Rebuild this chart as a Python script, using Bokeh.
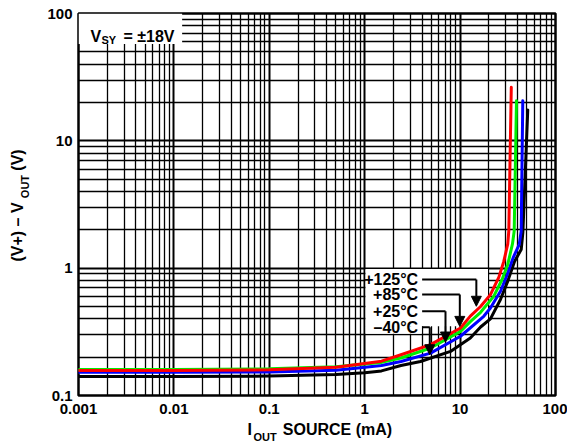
from bokeh.plotting import figure
from bokeh.models import (FixedTicker, LogAxis, BoxAnnotation, Arrow, NormalHead,
                          ColumnDataSource, Label)
from bokeh.embed import file_html
from bokeh.resources import INLINE
from bokeh.core.properties import value

# ---------------- data (I_OUT in mA, (V+) - V_OUT in V) ----------------
i_red = [0.001, 0.01, 0.1, 0.5, 1.0, 1.5, 2.4, 4.9, 10.1, 12.8, 16.4, 20.8, 25.5, 28.7, 31.6, 32.4, 34.4]
v_red = [0.157, 0.157, 0.159, 0.167, 0.178, 0.186, 0.209, 0.251, 0.339, 0.42, 0.50, 0.62, 0.85, 1.13, 1.55, 1.96, 26.3]

i_green = [0.001, 0.01, 0.1, 0.5, 1.0, 1.5, 2.4, 4.9, 10.1, 12.8, 16.4, 22.5, 27.6, 31.6, 35.4, 36.9, 39.0]
v_green = [0.160, 0.160, 0.162, 0.168, 0.177, 0.182, 0.197, 0.236, 0.319, 0.38, 0.45, 0.60, 0.818, 1.07, 1.55, 1.96, 20.6]

i_blue = [0.001, 0.01, 0.1, 0.5, 0.9, 1.5, 2.4, 4.9, 10.1, 17.7, 20.8, 26.5, 31.2, 36.0, 41.7, 43.7, 45.4]
v_blue = [0.152, 0.152, 0.153, 0.158, 0.165, 0.172, 0.185, 0.215, 0.292, 0.419, 0.487, 0.659, 0.891, 1.21, 1.54, 1.96, 20.6]

i_black = [0.001, 0.01, 0.1, 0.5, 1.0, 1.5, 2.4, 3.85, 7.93, 12.8, 16.4, 20.8, 26.5, 31.6, 37.2, 43.7, 45.5, 51.2]
v_black = [0.141, 0.141, 0.142, 0.146, 0.151, 0.156, 0.172, 0.185, 0.222, 0.283, 0.345, 0.40, 0.567, 0.791, 1.13, 1.40, 1.9, 17.5]

x_ticks = [0.001, 0.01, 0.1, 1, 10, 100]
x_tick_labels = ["0.001", "0.01", "0.1", "1", "10", "100"]
y_ticks = [0.1, 1, 10, 100]
y_tick_labels = ["0.1", "1", "10", "100"]

temp_labels = ["+125°C", "+85°C", "+25°C", "–40°C"]
leader_start_i = [4.0, 4.0, 4.0, 4.0]
leader_v = [0.814, 0.621, 0.458, 0.343]
arrow_i = [14.8, 9.93, 7.03, 4.81]
arrow_tip_v = [0.502, 0.349, 0.263, 0.209]

# axis-title pieces (text, and where along the axis each piece is centred)
x_title_main = ["I", "SOURCE (mA)"]
x_title_main_at = [0.06232, 0.5186]
x_title_sub = ["OUT"]
x_title_sub_at = [0.09036]
y_title_main = ["(V+) – V", "(V)"]
y_title_main_at = [1.923, 7.072]
y_title_sub = ["OUT"]
y_title_sub_at = [4.378]

FONT = "Liberation Sans"

def minor_of(ticks):
    out = []
    for t in ticks[:-1]:
        for m in range(2, 10):
            out.append(m * t)
    return out

p = figure(width=567, height=446, x_axis_type="log", y_axis_type="log",
           x_range=(0.001, 100), y_range=(0.1, 100),
           output_backend="svg", toolbar_location=None,
           min_border_left=78, min_border_right=12,
           min_border_top=13, min_border_bottom=51,
           background_fill_color="white", border_fill_color="white")

p.xaxis.ticker = FixedTicker(ticks=x_ticks, minor_ticks=minor_of(x_ticks))
p.yaxis.ticker = FixedTicker(ticks=y_ticks, minor_ticks=minor_of(y_ticks))
p.xaxis.major_label_overrides = dict(zip(x_ticks, x_tick_labels))
p.yaxis.major_label_overrides = dict(zip(y_ticks, y_tick_labels))

def style_axis(ax, size):
    ax.axis_line_color = None
    ax.major_tick_line_color = None
    ax.minor_tick_line_color = None
    ax.major_tick_out = 0
    ax.major_tick_in = 0
    ax.minor_tick_out = 0
    ax.minor_tick_in = 0
    ax.major_label_text_font = FONT
    ax.major_label_text_font_style = "bold"
    ax.major_label_text_font_size = f"{size}px"
    ax.major_label_text_color = "black"

style_axis(p.xaxis[0], 15)
style_axis(p.yaxis[0], 15)
p.xaxis.major_label_standoff = 8
p.yaxis.major_label_standoff = 6

def title_axis(ticks, labels, size, standoff, orient="horizontal"):
    ax = LogAxis(ticker=FixedTicker(ticks=ticks, minor_ticks=[]),
                 major_label_overrides=dict(zip(ticks, labels)))
    style_axis(ax, size)
    ax.major_label_standoff = standoff
    ax.major_label_orientation = orient
    return ax

# x title: "I" + subscript "OUT" + "SOURCE (mA)"
p.add_layout(title_axis(x_title_main_at, x_title_main, 16, 4), "below")
p.add_layout(title_axis(x_title_sub_at, x_title_sub, 11, -10), "below")
# y title: "(V+) – V" + subscript "OUT" + "(V)"
p.add_layout(title_axis(y_title_sub_at, y_title_sub, 11, 13, "parallel"), "left")
p.add_layout(title_axis(y_title_main_at, y_title_main, 16, -10, "parallel"), "left")

for g in (p.xgrid[0], p.ygrid[0]):
    g.grid_line_color = "black"
    g.grid_line_width = 2
    g.grid_line_alpha = 1
    g.minor_grid_line_color = "black"
    g.minor_grid_line_width = 1.3
    g.minor_grid_line_alpha = 1

p.outline_line_color = "black"
p.outline_line_width = 2.5
p.outline_line_alpha = 1

# white label backgrounds (under the curves, over the grid)
p.add_layout(BoxAnnotation(left=0.001, right=0.0122, bottom=57.7, top=100,
                           fill_color="white", fill_alpha=1, line_color=None,
                           level="underlay"))
p.add_layout(BoxAnnotation(left=1.02, right=19.6, bottom=0.35, top=0.985,
                           fill_color="white", fill_alpha=1, line_color=None,
                           level="underlay"))
p.add_layout(BoxAnnotation(left=1.02, right=3.95, bottom=0.305, top=0.35,
                           fill_color="white", fill_alpha=1, line_color=None,
                           level="underlay"))

# curves (black drawn first, red on top)
for xs, ys, col in ((i_black, v_black, "black"), (i_blue, v_blue, "#0000ff"),
                    (i_green, v_green, "#00ee00"), (i_red, v_red, "#ff0000")):
    p.line(xs, ys, line_color=col, line_width=3, line_join="round", line_cap="round")

# leaders and arrows
p.segment(x0=leader_start_i, y0=leader_v, x1=arrow_i, y1=leader_v,
          line_color="black", line_width=2)
arr_src = ColumnDataSource(dict(xs=arrow_i, ys=leader_v, xe=arrow_i, ye=arrow_tip_v))
p.add_layout(Arrow(source=arr_src, x_start="xs", y_start="ys", x_end="xe", y_end="ye",
                   line_color="black", line_width=2,
                   end=NormalHead(size=10, fill_color="black", line_color="black",
                                  line_width=1)))
p.text(x=leader_start_i, y=leader_v, text=temp_labels, x_offset=-4,
       text_align="right", text_baseline="middle", text_font=value(FONT),
       text_font_style="bold", text_font_size="16px", text_color="black")

# V_SY label (inside the frame)
def lab(text, sx, sy, size):
    p.add_layout(Label(x=sx, y=sy, x_units="screen", y_units="screen", text=text,
                       text_baseline="alphabetic", text_font=FONT,
                       text_font_style="bold", text_font_size=f"{size}px",
                       text_color="black"))

lab("V", 12, 359, 16)
lab("SY", 23, 355.5, 11)
lab("= ±18V", 45, 359, 16)

open("out.html", "w").write(file_html(p, INLINE))
